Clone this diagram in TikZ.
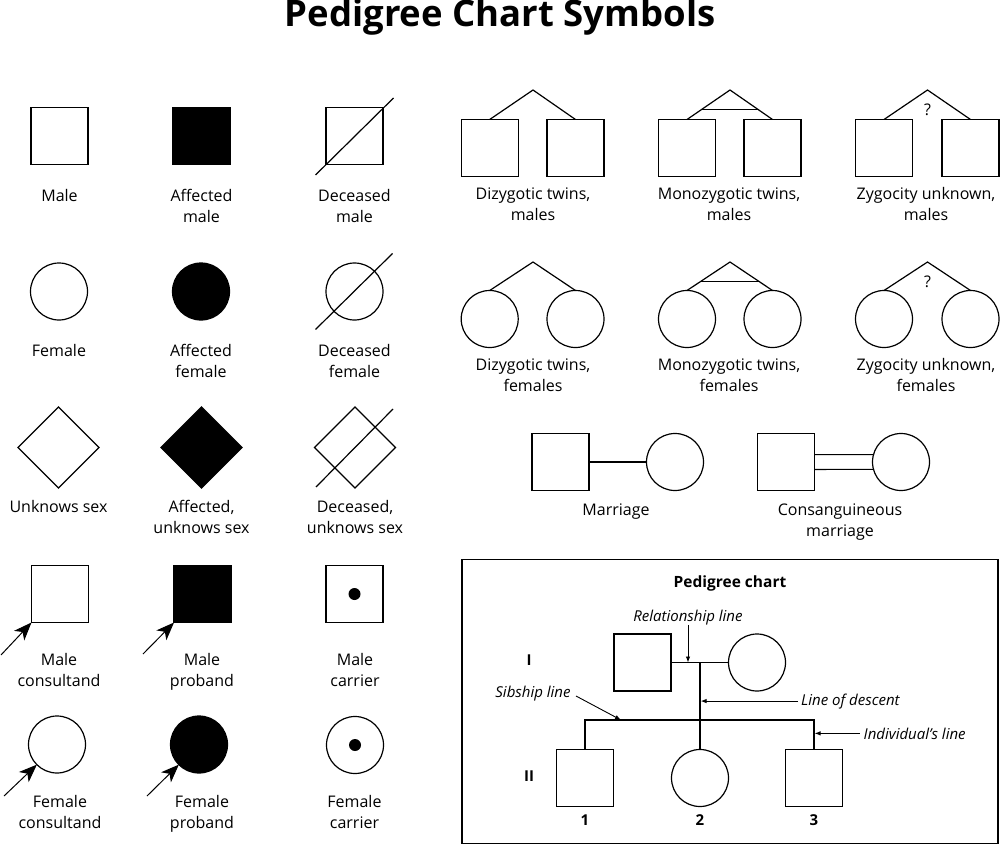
\documentclass[tikz,border=0pt]{standalone}
\usepackage{fontspec}
\setmainfont{Open Sans}
\usetikzlibrary{shapes.geometric,arrows.meta,calc}
\begin{document}
\begin{tikzpicture}[x=1pt,y=-1pt,
  shp/.style={draw,line width=1.2pt,inner sep=0pt,outer sep=0pt},
  sq/.style={shp,rectangle,minimum size=57pt},
  ci/.style={shp,circle,minimum size=57pt},
  dia/.style={shp,diamond,minimum width=81pt,minimum height=81pt},
  aff/.style={fill=black},
  dot/.style={circle,fill=black,minimum size=12pt,inner sep=0pt},
  ln/.style={line width=1.2pt},
  lab/.style={anchor=base,align=center,inner sep=0pt,font=\fontsize{16}{21.5}\selectfont},
  lab2/.style={lab,yshift=-21.5pt},
  pro/.style={line width=1pt,-{Stealth[length=18pt,width=14pt,inset=5pt]}},
  note/.style={anchor=base,inner sep=0pt,font=\fontsize{15}{18}\selectfont\itshape},
  chl/.style={anchor=base,inner sep=0pt,font=\fontsize{15}{18}\selectfont\bfseries},
  sarr/.style={line width=0.9pt,-{Latex[length=6pt,width=4.5pt]}},
]
\useasboundingbox (0,0) rectangle (1000,845);

% title
\node[anchor=base,inner sep=0pt,font=\fontsize{36.5}{40}\selectfont\bfseries] (title) at (500,27) {Pedigree Chart Symbols};

% row 1: males
\node[sq] (m) at (59.5,136) {};
\node[sq,aff] (am) at (201.5,136) {};
\node[sq] (dm) at (354.5,136) {};
\draw[ln] ($(dm.center)+(-39,39)$) -- ($(dm.center)+(39,-38)$);
\node[lab] (lm) at (59.5,201) {Male};
\node[lab2] (lam) at (201.5,201) {Affected\\male};
\node[lab2] (ldm) at (354.5,201) {Deceased\\male};

% row 2: females
\node[ci] (f) at (59,291.5) {};
\node[ci,aff] (af) at (201,291.5) {};
\node[ci] (df) at (354.5,291.5) {};
\draw[ln] ($(df.center)+(-39,38)$) -- ($(df.center)+(38,-38)$);
\node[lab] (lf) at (59,356) {Female};
\node[lab2] (laf) at (201,356) {Affected\\female};
\node[lab2] (ldf) at (354.5,356) {Deceased\\female};

% row 3: unknown sex
\node[dia] (u) at (58.5,447.5) {};
\node[dia,aff] (au) at (201.5,447.5) {};
\node[dia] (du) at (355,447.5) {};
\draw[ln] ($(du.center)+(-39,39.5)$) -- ($(du.center)+(38,-38.5)$);
\node[lab] (lu) at (58.5,512) {Unknows sex};
\node[lab2] (lau) at (201.5,512) {Affected,\\unknows sex};
\node[lab2] (ldu) at (355,512) {Deceased,\\unknows sex};

% row 4
\node[sq] (mc) at (60,594) {};
\node[sq,aff] (mp) at (202.5,594) {};
\node[sq] (mca) at (354.5,594) {};
\node[dot] (mcd) at (mca.center) {};
\coordinate (mct) at (1,655);
\coordinate (mpt) at (143,654);
\draw[pro] (mct) -- (mc.south west);
\draw[pro] (mpt) -- (mp.south west);
\node[lab2] (lmc) at (59,665) {Male\\consultand};
\node[lab2] (lmp) at (202,665) {Male\\proband};
\node[lab2] (lmca) at (355,665) {Male\\carrier};

% row 5
\node[ci] (fc) at (57,744.5) {};
\node[ci,aff] (fp) at (199,744.5) {};
\node[ci] (fca) at (355,745) {};
\node[dot] (fcd) at (fca.center) {};
\coordinate (fct) at (4,796);
\coordinate (fpt) at (147,796);
\draw[pro] (fct) -- (fc.south west);
\draw[pro] (fpt) -- (fp.south west);
\node[lab2] (lfc) at (60,807) {Female\\consultand};
\node[lab2] (lfp) at (202,807) {Female\\proband};
\node[lab2] (lfca) at (354.5,807) {Female\\carrier};

% twins, males
\coordinate (a1) at (533,90);
\node[sq] (t1a) at (489.7,148) {};
\node[sq] (t1b) at (575.5,148) {};
\draw[ln] (t1a.north) -- (a1) -- (t1b.north);
\coordinate (a2) at (730,90);
\node[sq] (t2a) at (687,148) {};
\node[sq] (t2b) at (772.5,148) {};
\draw[ln] (t2a.north) -- (a2) -- (t2b.north);
\draw[ln] ($(a2)!0.66!(t2a.north)$) -- ($(a2)!0.66!(t2b.north)$);
\coordinate (a3) at (927.5,90);
\node[sq] (t3a) at (884,148) {};
\node[sq] (t3b) at (970.5,148) {};
\draw[ln] (t3a.north) -- (a3) -- (t3b.north);
\node[inner sep=0pt,font=\fontsize{16}{18}\selectfont] (q1) at (927.5,110) {?};
\node[lab2] (lt1) at (533,199) {Dizygotic twins,\\males};
\node[lab2] (lt2) at (729,199) {Monozygotic twins,\\males};
\node[lab2] (lt3) at (926,199) {Zygocity unknown,\\males};

% twins, females
\coordinate (b1) at (533,262);
\node[ci] (s1a) at (489.7,319) {};
\node[ci] (s1b) at (575.5,319) {};
\draw[ln] (s1a.north) -- (b1) -- (s1b.north);
\coordinate (b2) at (730,262);
\node[ci] (s2a) at (687,319) {};
\node[ci] (s2b) at (772.5,319) {};
\draw[ln] (s2a.north) -- (b2) -- (s2b.north);
\draw[ln] ($(b2)!0.69!(s2a.north)$) -- ($(b2)!0.69!(s2b.north)$);
\coordinate (b3) at (927.5,262);
\node[ci] (s3a) at (884,319) {};
\node[ci] (s3b) at (970.5,319) {};
\draw[ln] (s3a.north) -- (b3) -- (s3b.north);
\node[inner sep=0pt,font=\fontsize{16}{18}\selectfont] (q2) at (927.5,282) {?};
\node[lab2] (ls1) at (533,370) {Dizygotic twins,\\females};
\node[lab2] (ls2) at (729,370) {Monozygotic twins,\\females};
\node[lab2] (ls3) at (926,370) {Zygocity unknown,\\females};

% marriages
\node[sq] (ms) at (560.5,462) {};
\node[ci] (mf) at (675,462) {};
\draw[ln] (ms) -- (mf);
\node[sq] (cs) at (786,462) {};
\node[ci] (cf) at (901,462) {};
\draw[ln] ($(cs.east)+(0,-7.4)$) -- (cf.165);
\draw[ln] ($(cs.east)+(0,7.4)$) -- (cf.195);
\node[lab] (lms) at (616,515) {Marriage};
\node[lab2] (lcs) at (840,515) {Consanguineous\\marriage};

% pedigree chart box
\node[draw,line width=1.3pt,minimum width=536pt,minimum height=284pt,inner sep=0pt] (box) at (730,701.5) {};
\node[chl,font=\fontsize{15.5}{18}\selectfont\bfseries] (ptitle) at (730,587) {Pedigree chart};
\node[sq] (p1) at (642.5,662.5) {};
\node[ci] (p2) at (757,662.5) {};
\draw[ln] (p1) -- (p2);
\coordinate (mid) at (700,662.5);
\node[ci] (c2) at (700,778) {};
\draw[ln] (mid) -- (c2);
\node[sq] (c1) at (585,778) {};
\node[sq] (c3) at (814,778) {};
\coordinate (sib) at (700,720);
\draw[ln] (c1.north) -- (c1.north |- sib) -- (c3.north |- sib) -- (c3.north);
\node[chl] (g1) at (529,665) {I};
\node[chl] (g2) at (529,781) {II};
\node[chl] (n1) at (585,825) {1};
\node[chl] (n2) at (700,825) {2};
\node[chl] (n3) at (814,825) {3};

% annotations
\node[note] (rl) at (688,621) {Relationship line};
\draw[sarr] (rl.south) -- (rl.south |- mid);
\node[note] (sl) at (533,697) {Sibship line};
\coordinate (slt) at (576,696);
\coordinate (slh) at (621,720);
\draw[sarr] (slt) -- (slh);
\node[note,anchor=base west] (ld) at (801,705) {Line of descent};
\draw[sarr] ($(ld.west)+(-3,0)$) -- ($(ld.west -| mid)+(0.6,0)$);
\node[note,anchor=base west] (il) at (863.5,739) {Individual’s line};
\draw[sarr] ($(il.west)+(-4,0)$) -- ($(il.west -| c3.north)+(0.6,0)$);
\end{tikzpicture}
\end{document}
